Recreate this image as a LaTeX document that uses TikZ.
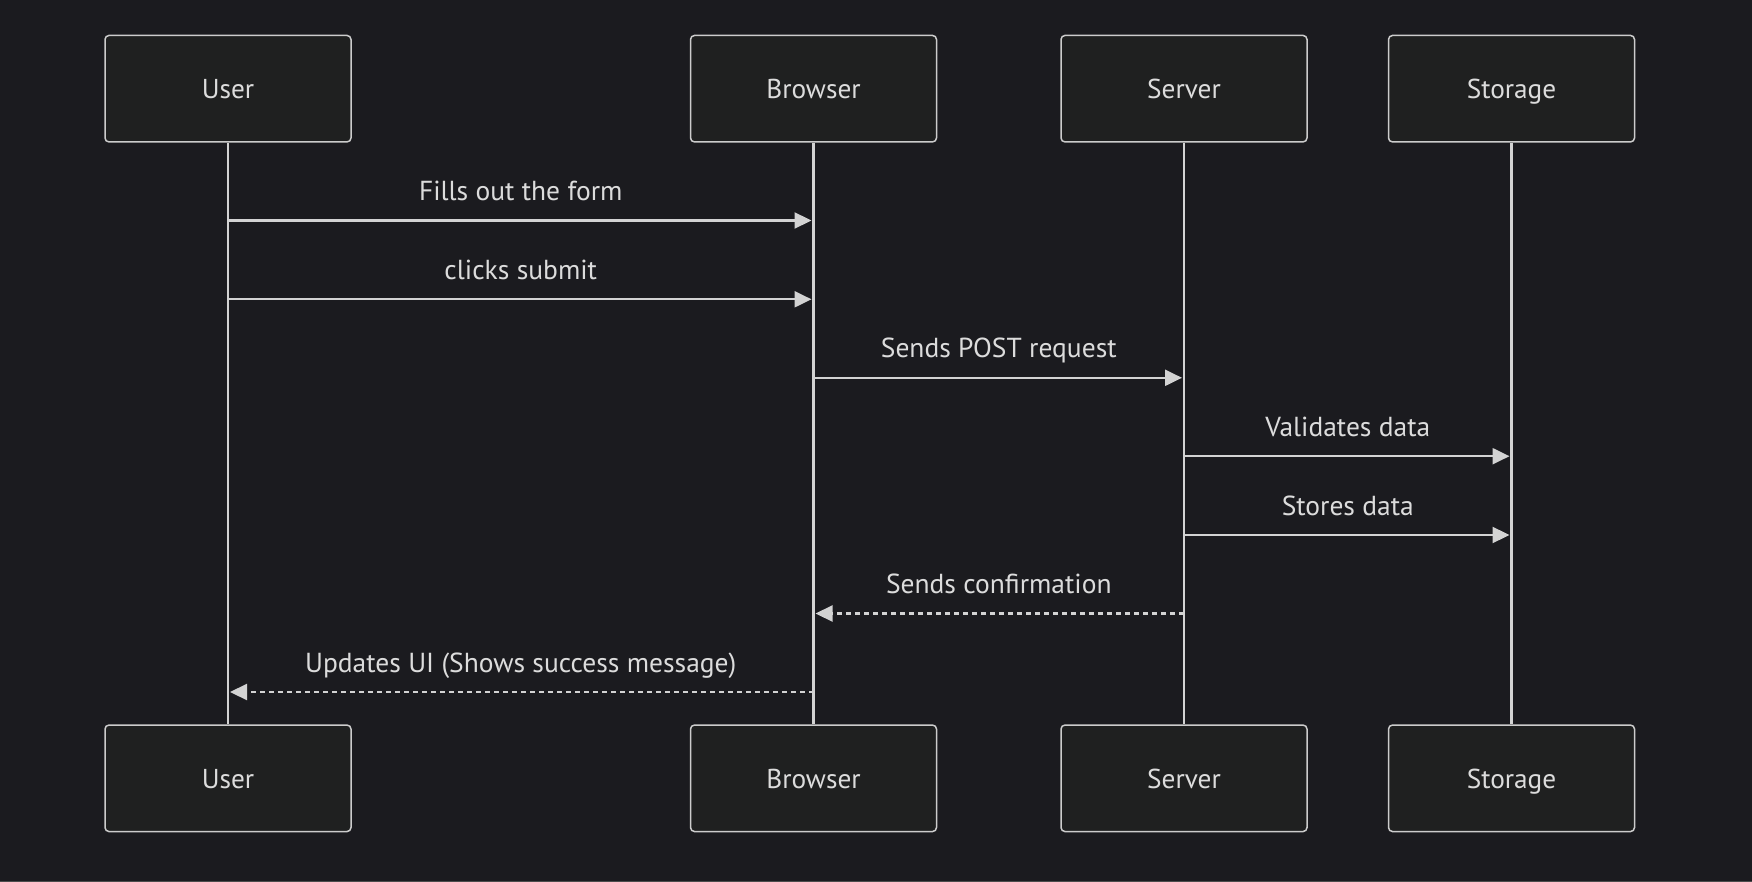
\documentclass[tikz,border=0pt]{standalone}
\usepackage{fontspec}
\setmainfont{PT Sans}
\usetikzlibrary{arrows.meta}
\definecolor{bg}{HTML}{1B1B1F}
\definecolor{boxfill}{HTML}{1F2020}
\definecolor{boxline}{HTML}{CCCCCC}
\definecolor{linec}{HTML}{D3D3D3}
\definecolor{txt}{HTML}{DCDCDC}
\tikzset{
  actor/.style={draw=boxline, fill=boxfill, line width=1.5pt, rounded corners=4pt,
    minimum width=246pt, minimum height=106.5pt, inner sep=0pt,
    text height=23pt, text depth=3.5pt,
    text=txt, font=\fontsize{27.3}{32}\selectfont},
  life/.style={draw=linec, line width=2.8pt},
  msg/.style={draw=linec, line width=2.2pt, -{Triangle[length=17pt,width=16pt]}, shorten >=2pt},
  reply/.style={msg, dash pattern=on 5pt off 4pt},
  lbl/.style={text=txt, font=\fontsize{27.5}{32}\selectfont, inner sep=0pt, anchor=base}
}
\begin{document}
\begin{tikzpicture}[x=1pt,y=-1pt]
\fill[bg] (0,0) rectangle (1752,882);
\useasboundingbox (0,0) rectangle (1752,882);
\draw[color=black!70!white, line width=1pt] (0,881.5) -- (1752,881.5);
% top actors
\node[actor] (userT) at (228,88.7) {User};
\node[actor] (browserT) at (813.5,88.7) {Browser};
\node[actor] (serverT) at (1184,88.7) {Server};
\node[actor] (storageT) at (1511.5,88.7) {Storage};
% bottom actors
\node[actor] (userB) at (228,778.3) {User};
\node[actor] (browserB) at (813.5,778.3) {Browser};
\node[actor] (serverB) at (1184,778.3) {Server};
\node[actor] (storageB) at (1511.5,778.3) {Storage};
% lifelines
\draw[life] (userT.south) -- (userB.north);
\draw[life] (browserT.south) -- (browserB.north);
\draw[life] (serverT.south) -- (serverB.north);
\draw[life] (storageT.south) -- (storageB.north);
% messages
\draw[msg] (userT.south |- 0,220.5) -- node[lbl, yshift=20pt] {Fills out the form} (browserT.south |- 0,220.5);
\draw[msg] (userT.south |- 0,299.3) -- node[lbl, yshift=20pt] {clicks submit} (browserT.south |- 0,299.3);
\draw[msg] (browserT.south |- 0,377.8) -- node[lbl, yshift=20pt] {Sends POST request} (serverT.south |- 0,377.8);
\draw[msg] (serverT.south |- 0,456.2) -- node[lbl, yshift=20pt] {Validates data} (storageT.south |- 0,456.2);
\draw[msg] (serverT.south |- 0,535) -- node[lbl, yshift=20pt] {Stores data} (storageT.south |- 0,535);
\draw[reply] (serverT.south |- 0,613.5) -- node[lbl, yshift=20pt] {Sends confirmation} (browserT.south |- 0,613.5);
\draw[reply] (browserT.south |- 0,692) -- node[lbl, yshift=20pt] {Updates UI (Shows success message)} (userT.south |- 0,692);
\end{tikzpicture}
\end{document}
